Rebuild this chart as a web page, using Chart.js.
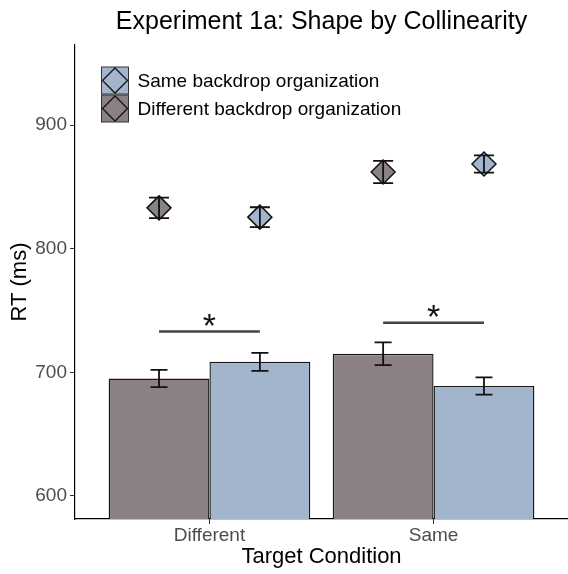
<!DOCTYPE html>
<html>
<head>
<meta charset="utf-8">
<script src="https://cdn.jsdelivr.net/npm/chart.js@4/dist/chart.umd.min.js"></script>
<style>
  html, body { margin: 0; padding: 0; background: #ffffff; }
  #wrap { width: 568px; height: 574px; }
</style>
</head>
<body>
<div id="wrap"><canvas id="c" width="568" height="574"></canvas></div>
<script>
// Target conditions on the x axis
const conditions = ['Different', 'Same'];

// Backdrop organization series (left bar = different, right bar = same)
const seriesNames = ['Different backdrop organization', 'Same backdrop organization'];
const seriesColors = ['#8b8082', '#a3b5cd'];

// Mean RT bars and their standard errors (ms)
const barDifferent = [695, 715];
const barDifferentSE = [7, 9.2];
const barSame = [708.5, 689];
const barSameSE = [7.3, 7];

// Diamond markers above the bars and their standard errors (ms)
const pointDifferent = [833, 862];
const pointDifferentSE = [8.3, 9];
const pointSame = [825.5, 868.5];
const pointSameSE = [8, 7];

// Significance brackets between the two bars of each condition
const sigLevels = [733, 740];
const sigMarks = ['*', '*'];

// Axis ticks and range
const yTicks = [600, 700, 800, 900];
const yRange = [581.4, 964.7];

const FONT = '"Liberation Sans", Arial, Helvetica, sans-serif';
Chart.defaults.font.family = FONT;

const CAT_PCT = 0.9;
const dodge = CAT_PCT / 4; // half a bar width in category units

function barSet(label, values, se, color) {
  return {
    type: 'bar',
    label: label,
    data: values.map((v, i) => ({ x: i + 1, y: v })),
    err: se,
    capWidth: 17,
    backgroundColor: color,
    borderColor: '#1a1a1a',
    borderWidth: 1.4,
    borderSkipped: false,
    categoryPercentage: CAT_PCT,
    barPercentage: 1.0,
    order: 2
  };
}

function pointSet(label, values, se, color, side) {
  return {
    type: 'line',
    label: label,
    data: values.map((v, i) => ({ x: i + 1 + side * dodge, y: v })),
    err: se,
    capWidth: 20,
    showLine: false,
    pointStyle: 'rectRot',
    pointRadius: 12,
    pointBorderWidth: 1.5,
    pointBackgroundColor: color,
    pointBorderColor: '#111111',
    order: 1
  };
}

// Vertical error bars with caps, drawn for every dataset that carries `err`
const errorBars = {
  id: 'errorBars',
  afterDatasetsDraw(chart) {
    const ctx = chart.ctx;
    const y = chart.scales.y;
    chart.data.datasets.forEach((ds, di) => {
      if (!ds.err) return;
      const meta = chart.getDatasetMeta(di);
      meta.data.forEach((el, i) => {
        const v = ds.data[i].y;
        const top = y.getPixelForValue(v + ds.err[i]);
        const bot = y.getPixelForValue(v - ds.err[i]);
        const hw = ds.capWidth / 2;
        ctx.save();
        ctx.strokeStyle = '#111111';
        ctx.lineWidth = 1.8;
        ctx.beginPath();
        ctx.moveTo(el.x, top); ctx.lineTo(el.x, bot);
        ctx.moveTo(el.x - hw, top); ctx.lineTo(el.x + hw, top);
        ctx.moveTo(el.x - hw, bot); ctx.lineTo(el.x + hw, bot);
        ctx.stroke();
        ctx.restore();
      });
    });
  }
};

// Significance lines joining the bar centres, with the star above
const sigBrackets = {
  id: 'sigBrackets',
  afterDatasetsDraw(chart) {
    const ctx = chart.ctx;
    const y = chart.scales.y;
    const left = chart.getDatasetMeta(0).data;
    const right = chart.getDatasetMeta(1).data;
    sigLevels.forEach((lvl, i) => {
      const py = y.getPixelForValue(lvl);
      ctx.save();
      ctx.strokeStyle = '#444444';
      ctx.lineWidth = 2.5;
      ctx.beginPath();
      ctx.moveTo(left[i].x, py);
      ctx.lineTo(right[i].x, py);
      ctx.stroke();
      ctx.fillStyle = '#111111';
      ctx.font = '34px ' + FONT;
      ctx.textAlign = 'center';
      ctx.textBaseline = 'alphabetic';
      ctx.fillText(sigMarks[i], (left[i].x + right[i].x) / 2, py + 5);
      ctx.restore();
    });
  }
};

// Legend in the top-left of the panel: filled keys with a diamond outline
const keyLegend = {
  id: 'keyLegend',
  afterDraw(chart) {
    const ctx = chart.ctx;
    const order = [1, 0]; // same backdrop listed first
    const x0 = 101.5, y0 = 67, size = 27, gap = 1;
    order.forEach((si, row) => {
      const ky = y0 + row * (size + gap);
      ctx.save();
      ctx.fillStyle = seriesColors[si];
      ctx.fillRect(x0, ky, size, size);
      ctx.strokeStyle = '#333333';
      ctx.lineWidth = 1;
      ctx.strokeRect(x0, ky, size, size);
      const cx = x0 + size / 2, cy = ky + size / 2, r = size / 2 - 1;
      ctx.strokeStyle = '#111111';
      ctx.lineWidth = 1.3;
      ctx.beginPath();
      ctx.moveTo(cx, cy - r); ctx.lineTo(cx + r, cy);
      ctx.lineTo(cx, cy + r); ctx.lineTo(cx - r, cy);
      ctx.closePath();
      ctx.stroke();
      ctx.fillStyle = '#000000';
      ctx.font = '19px ' + FONT;
      ctx.textAlign = 'left';
      ctx.textBaseline = 'middle';
      ctx.fillText(seriesNames[si], x0 + size + 9, cy + 1);
      ctx.restore();
    });
  }
};

new Chart(document.getElementById('c'), {
  data: {
    datasets: [
      barSet(seriesNames[0], barDifferent, barDifferentSE, seriesColors[0]),
      barSet(seriesNames[1], barSame, barSameSE, seriesColors[1]),
      pointSet(seriesNames[0], pointDifferent, pointDifferentSE, seriesColors[0], -1),
      pointSet(seriesNames[1], pointSame, pointSameSE, seriesColors[1], 1)
    ]
  },
  options: {
    responsive: false,
    devicePixelRatio: 1,
    animation: false,
    events: [],
    layout: { padding: 0, autoPadding: false },
    plugins: {
      legend: { display: false },
      tooltip: { enabled: false },
      title: {
        display: true,
        text: 'Experiment 1a: Shape by Collinearity',
        color: '#000000',
        font: { size: 25, weight: 'normal' },
        padding: { top: 7, bottom: 8 },
        fullSize: false
      }
    },
    scales: {
      x: {
        type: 'linear',
        offset: false,
        min: 0.4,
        max: 2.6,
        afterBuildTicks: s => { s.ticks = conditions.map((c, i) => ({ value: i + 1 })); },
        afterFit: s => { s.height = 55; s.paddingLeft = 0; s.paddingRight = 0; },
        ticks: {
          callback: (v, i) => conditions[i],
          color: '#4d4d4d',
          font: { size: 19 },
          padding: 0,
          maxRotation: 0,
          autoSkip: false
        },
        grid: { offset: false, drawOnChartArea: false, tickLength: 5, color: '#333333', lineWidth: 1 },
        border: { color: '#000000', width: 1.2 },
        title: {
          display: true,
          text: 'Target Condition',
          color: '#000000',
          font: { size: 22 },
          padding: { top: 0, bottom: 4 }
        }
      },
      y: {
        type: 'linear',
        min: yRange[0],
        max: yRange[1],
        afterBuildTicks: s => { s.ticks = yTicks.map(v => ({ value: v })); },
        afterFit: s => { s.width = 75; },
        ticks: {
          color: '#4d4d4d',
          font: { size: 19 },
          padding: 3
        },
        grid: { drawOnChartArea: false, tickLength: 5, color: '#333333', lineWidth: 1 },
        border: { color: '#000000', width: 1.2 },
        title: {
          display: true,
          text: 'RT (ms)',
          color: '#000000',
          font: { size: 22 },
          padding: { top: 7, bottom: 0 }
        }
      }
    }
  },
  plugins: [errorBars, sigBrackets, keyLegend]
});
</script>
</body>
</html>
